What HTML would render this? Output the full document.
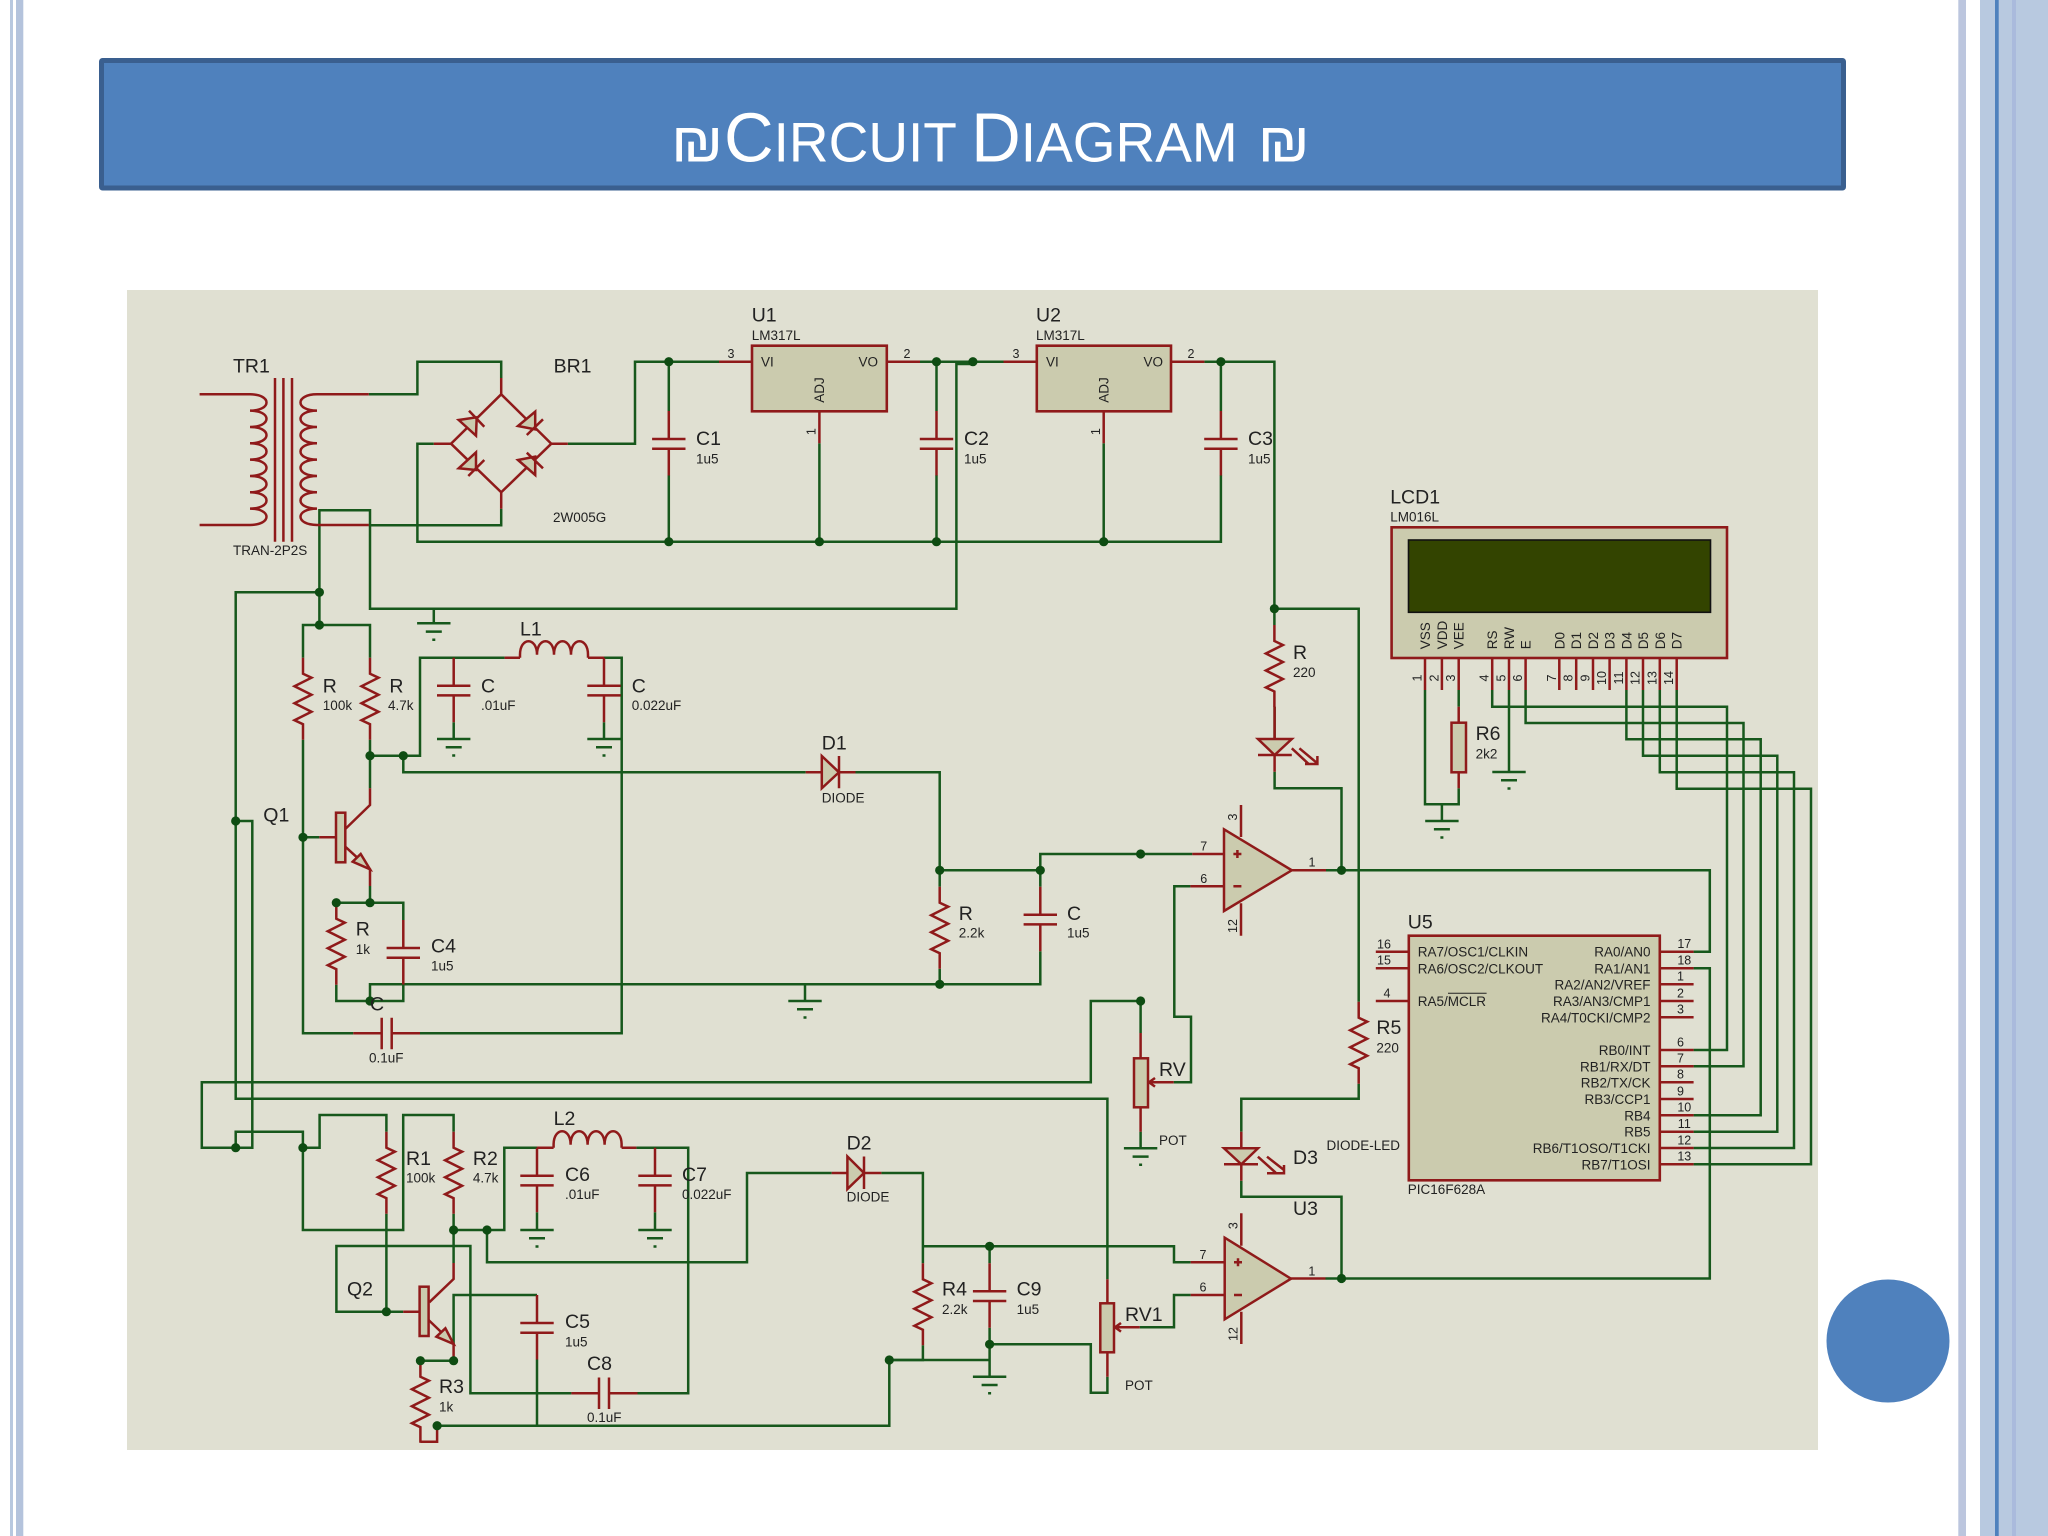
<!DOCTYPE html>
<html><head><meta charset="utf-8"><title>Circuit Diagram</title>
<style>
html,body{margin:0;padding:0;background:#fff;width:2048px;height:1536px;overflow:hidden}
svg{display:block;position:absolute;left:0;top:0}
text{font-family:"Liberation Sans",sans-serif;fill:#222}
.l text,text.l{font-size:19.5px}
.s text,text.s{font-size:13.5px}
.n text,text.n{font-size:12.5px}
</style></head><body>
<svg width="2048" height="1536" viewBox="0 0 2048 1536" xmlns="http://www.w3.org/2000/svg">
<defs>
<path id="r" d="M0 0V16l8.5 4-17 8.5 17 8.5-17 8.5 17 8.5-17 8.5 8.5 4V82"/>
<path id="c" d="M0 0V28M-16.7 28H16.7M-16.7 37.7H16.7M0 37.7V64.5"/>
<path id="g" d="M-16.7 0H16.7M-8 8.3H8M-1.5 16.5H1.5"/>
<path id="ind" d="M0 0V-3c0-18 17-18 17 0 0-18 17-18 17 0 0-18 17-18 17 0 0-18 17-18 17 0V0"/>
</defs>
<rect width="2048" height="1536" fill="#fff"/>
<!-- side bars -->
<rect x="10" y="0" width="3" height="1536" fill="#b8c8df"/>
<rect x="16" y="0" width="7.3" height="1536" fill="#b4c3dc"/>
<rect x="1958.3" y="0" width="7.7" height="1536" fill="#bcc6de"/>
<rect x="1980" y="0" width="68" height="1536" fill="#b8c9e0"/>
<rect x="1995" y="0" width="3.7" height="1536" fill="#4f81bd"/>
<rect x="2012" y="0" width="4" height="1536" fill="#aabadc"/>
<!-- title -->
<rect x="101.5" y="60.5" width="1742" height="127.5" rx="1" fill="#4f81bd" stroke="#3a5f8f" stroke-width="5"/>
<text transform="translate(671,161.5) scale(1.1,1)" font-size="56" style="fill:#fff">₪</text>
<text transform="translate(724,161.5) scale(.982,1)" style="fill:#fff"><tspan font-size="70">C</tspan><tspan font-size="56">IRCUIT </tspan><tspan font-size="70">D</tspan><tspan font-size="56">IAGRAM</tspan></text>
<text transform="translate(1257.6,161.5) scale(1.1,1)" font-size="56" style="fill:#fff">₪</text>
<!-- schematic bg -->
<rect x="127" y="290" width="1691" height="1160" fill="#e0e0d2"/>
<!-- component fills -->
<g fill="#cbcbae" stroke="#8f1a1a" stroke-width="2.6">
<rect x="752" y="345.7" width="134.8" height="65.6"/>
<rect x="1036.8" y="345.7" width="134.2" height="65.6"/>
<rect x="1391.6" y="527.3" width="335.4" height="130.7"/>
<rect x="1408.8" y="935.7" width="251" height="244.6"/>
</g>
<rect x="1408.5" y="540" width="302" height="72.3" fill="#334400" stroke="#111" stroke-width="1.6"/>
<!-- green wires -->
<g fill="none" stroke="#17581c" stroke-width="2.5">
<path d="M368.8 394.3H417.4V361.7H501.2V378"/>
<path d="M433.8 443.7H417.4V541.7H1220.9V475.3"/>
<path d="M567.8 443.7H635V361.7H719"/>
<path d="M501.2 508.7V525.3H368.8"/>
<path d="M319.4 625V510.3H370V608.7H956.4V364H973"/>
<path d="M920 361.7H1003.5"/>
<path d="M668.8 361.7V411M668.8 475.3V541.7"/>
<path d="M819.4 443.3V541.7M1103.7 443.3V541.7"/>
<path d="M936.5 361.7V411M936.5 475.3V541.7"/>
<path d="M1204.4 361.7H1274.4V625M1220.9 361.7V411"/>
<path d="M319.4 592.3H235.7V1098.7H1107.4V1279.3"/>
<path d="M303 657.7V625H370V657.7"/>
<path d="M303 739.7V1033.3H353.3"/>
<path d="M370 739.7V788.3"/>
<path d="M370 755.7H420V657.7H504.6M403.3 755.7V772.3H805.7"/>
<path d="M604 657.7H621.7V1033.3H420"/>
<path d="M453.7 722.2V739M604 722.2V739M433.8 608.7V623.3"/>
<path d="M235.7 821H252.3V1147.7H201.8V1082.3H1090.8V1001H1140.6V1033"/>
<path d="M235.7 1147.7V1131.7H302.9V1230H403.2V1115H453.6V1131.7"/>
<path d="M302.9 1147.7H319.6V1115H386.4V1131.7"/>
<path d="M386.4 1213.7V1311.7H336.4V1246H470.4V1393.3H571.4"/>
<path d="M386.4 1311.7H403.2"/>
<path d="M637.5 1393.3H688.2V1147.7H636.4"/>
<path d="M537 1147.7H504.3V1230H453.6M453.6 1213.7V1263"/>
<path d="M487 1230V1262.3H747V1173H831.7"/>
<path d="M881.4 1173H922.9V1263.3"/>
<path d="M922.9 1246.3H1174V1262.3H1190.7"/>
<path d="M989.6 1246.3V1263.3M989.6 1327.8V1376.7"/>
<path d="M922.9 1345.3V1360H889.3V1425.7H437.1"/>
<path d="M889.3 1360H989.6"/>
<path d="M989.6 1344.3H1090.8V1392.7H1107.4V1376.7"/>
<path d="M1190.7 1295H1174V1327.3H1139.7"/>
<path d="M1325.5 1278.5H1709.8V968.3H1693.6"/>
<path d="M1274.4 608.7H1358.7V1001.7M1358.7 1083.7V1098.7H1241.3V1131.7"/>
<path d="M1241.3 1180.7V1196.7H1341.5V1278.5"/>
<path d="M1274.6 706.7V738.7M1274.6 771.7V788.3H1341.5V870.3"/>
<path d="M1326 870.3H1709.8V951.7H1693.6"/>
<path d="M855.5 772.3H939.7V886.7M939.7 968.7V984.3M370 1001V984.3H1040.3V951.2M939.7 870.3H1040.3V886.7M1040.3 870.3V854H1192.3"/>
<path d="M805 984.3V1001"/>
<path d="M1190.4 886.3H1174.3V1016.7H1191V1082.3H1173.7"/>
<path d="M1140.6 1131.7V1148.3"/>
<path d="M303 837.3H319.3M370 886V902.7"/>
<path d="M370 902.7H403.3V920M336.3 902.7H370"/>
<path d="M403.3 984V1001H336.3V984.7"/>
<path d="M453.6 1344V1295H537"/>
<path d="M537 1359.5V1425.7M420.4 1360.7H453.6"/>
<path d="M537 1212.2V1230M655 1212.2V1230"/>
<path d="M1425 690V804.3H1458.7V788.3M1458.7 706.7V690M1441.9 804.3V821M1509 690V772"/>
<path d="M1492.2 690V706.7H1727V1050H1693.6"/>
<path d="M1525.6 690V723H1743.5V1066.3H1693.6"/>
<path d="M1626.4 690V739.3H1760.7V1115.3H1693.6"/>
<path d="M1643 690V755.7H1777.3V1131.7H1693.6"/>
<path d="M1659.8 690V772.3H1794V1148H1693.6"/>
<path d="M1676.7 690V788.7H1811V1164.3H1693.6"/>
<use href="#g" x="433.8" y="623.3"/><use href="#g" x="453.7" y="739"/><use href="#g" x="604" y="739"/><use href="#g" x="805" y="1001"/><use href="#g" x="1441.9" y="821"/><use href="#g" x="1509" y="772"/><use href="#g" x="1140.6" y="1148.3"/><use href="#g" x="537" y="1230"/><use href="#g" x="655" y="1230"/><use href="#g" x="989.6" y="1376.7"/>
</g>
<!-- red parts -->
<g fill="none" stroke="#8f1a1a" stroke-width="2.5">
<path d="M199.6 394.3H250c22 0 22 16.33 0 16.33 22 0 22 16.33 0 16.33 22 0 22 16.33 0 16.33 22 0 22 16.33 0 16.33 22 0 22 16.33 0 16.33 22 0 22 16.33 0 16.33 22 0 22 16.33 0 16.33 22 0 22 16.33 0 16.33H199.6"/>
<path d="M368.8 394.3H317c-22 0-22 16.33 0 16.33-22 0-22 16.33 0 16.33-22 0-22 16.33 0 16.33-22 0-22 16.33 0 16.33-22 0-22 16.33 0 16.33-22 0-22 16.33 0 16.33-22 0-22 16.33 0 16.33-22 0-22 16.33 0 16.33H368.8"/>
<path d="M275 378V541.7M283.4 378V541.7M292 378V541.7"/>
<path d="M501.2 378V394.3M501.2 394.3L551.3 443.7 501.2 492.3 451 443.7ZM501.2 492.3V508.7M451 443.7H433.8M551.3 443.7H567.8"/>
<g fill="#cbcbae">
<path d="M458.7 420L476 435.7 476.7 417.3Z"/>
<path d="M518 426L535.2 411.7 535.2 429.3Z"/>
<path d="M458.7 468.3L476 452.3 476 470Z"/>
<path d="M518 460L535.2 475 535.2 456.7Z"/>
</g>
<path d="M469 410.7L484.3 426.7M526.8 435L543 419.3M468.3 476L484.3 460M526.8 452.7L543 468.3"/>
<use href="#r" x="303" y="657.7"/><use href="#r" x="370" y="657.7"/><use href="#r" x="1274.4" y="625"/><use href="#r" x="939.7" y="886.7"/><use href="#r" x="336.3" y="902.7"/><use href="#r" x="386.4" y="1131.7"/><use href="#r" x="453.6" y="1131.7"/><use href="#r" x="420.4" y="1360.7"/><use href="#r" x="922.9" y="1263.3"/><use href="#r" x="1358.7" y="1001.7"/>
<path d="M420.4 1441.7H437.1V1425.7"/>
<use href="#c" x="668.8" y="411"/><use href="#c" x="936.5" y="411"/><use href="#c" x="1220.9" y="411"/><use href="#c" x="453.7" y="657.7"/><use href="#c" x="604" y="657.7"/><use href="#c" x="1040.3" y="886.7"/><use href="#c" x="403.3" y="920"/><use href="#c" x="537" y="1295"/><use href="#c" x="537" y="1147.7"/><use href="#c" x="655" y="1147.7"/><use href="#c" x="989.6" y="1263.3"/>
<path d="M353.3 1033.3H381.7M381.7 1017.7V1049.3M391.7 1017.7V1049.3M391.7 1033.3H420"/>
<path d="M571.4 1393.3H599M599 1377.5V1409M609 1377.5V1409M609 1393.3H637.5"/>
<use href="#ind" x="520" y="657.7"/><path d="M504.6 657.7H520M588 657.7H604"/>
<use href="#ind" x="553.6" y="1147.7"/><path d="M537 1147.7H553.6M621.6 1147.7H636.4"/>
<path d="M719 361.7H752M886.8 361.7H920M1003.5 361.7H1036.8M1171 361.7H1204.4M819.4 411.3V443.3M1103.7 411.3V443.3"/>
<!-- Q1 -->
<rect x="336" y="812.7" width="9.3" height="49.6" fill="#cbcbae"/>
<path d="M319.3 837.3H336M370 788.3V805L345.3 829M345.3 846.7L370 869.3V886"/>
<path d="M352.7 861.7L360.7 854 370 869.3Z" fill="#cbcbae"/>
<!-- Q2 -->
<rect x="419.6" y="1286.7" width="9" height="49.3" fill="#cbcbae"/>
<path d="M403.2 1311.7H419.6M453.6 1263V1279L429.3 1302.3M428.6 1320L453.6 1344V1360.7"/>
<path d="M436.4 1336.7L445.4 1328.3 453.6 1344Z" fill="#cbcbae"/>
<!-- D1 D2 -->
<path d="M805.7 772.3H821.8M839 772.3H855.5M839 756V788.3" /><path d="M821.8 756V788.3L839 772.3Z" fill="#cbcbae"/>
<path d="M831.7 1173H847.4M864 1173H881.4M864 1156.5V1189" /><path d="M847.4 1156.5V1189L864 1173Z" fill="#cbcbae"/>
<!-- LED1 -->
<path d="M1274.6 706.7V738.7M1274.6 755V771.7M1258 755H1291.8"/>
<path d="M1258 739H1291.8L1274.6 755Z" fill="#cbcbae"/>
<path d="M1291.8 748.3L1309 764.3M1299.4 748.3L1317.4 763.3M1317.4 756V764H1305"/>
<!-- LED D3 -->
<path d="M1241.3 1131.7V1148.3M1241.3 1164.3V1180.7M1224 1164.3H1258"/>
<path d="M1224 1148.3H1258L1241.3 1164.3Z" fill="#cbcbae"/>
<path d="M1257.9 1156.7L1275.7 1172.7M1267 1156.7L1284 1170M1284 1165V1173.3H1267"/>
<!-- R6 -->
<rect x="1451.5" y="722.7" width="14.5" height="49.6" fill="#cbcbae"/>
<path d="M1458.7 706.7V722.7M1458.7 772.3V788.3"/>
<!-- LCD pins -->
<path d="M1425 658V690M1441.9 658V690M1458.7 658V690M1492.2 658V690M1509 658V690M1525.6 658V690M1559.3 658V690M1576.2 658V690M1593 658V690M1609.6 658V690M1626.4 658V690M1643 658V690M1659.8 658V690M1676.7 658V690"/>
<!-- U5 pins -->
<path d="M1375.8 951.7H1408.8M1375.8 968.3H1408.8M1375.8 1001H1408.8"/>
<path d="M1659.8 951.7H1693.6M1659.8 968.3H1693.6M1659.8 984.3H1693.6M1659.8 1001H1693.6M1659.8 1017.3H1693.6M1659.8 1050H1693.6M1659.8 1066.3H1693.6M1659.8 1082.3H1693.6M1659.8 1099H1693.6M1659.8 1115.3H1693.6M1659.8 1131.7H1693.6M1659.8 1148H1693.6M1659.8 1164.3H1693.6"/>
<!-- opamps -->
<path d="M1224 829.3L1291.8 870.3 1224 911Z" fill="#cbcbae"/>
<path d="M1192.3 854H1224M1190.4 886.3H1224M1291.8 870.3H1326M1241 805V837M1241 903.3V935.7M1233.4 854H1241.4M1237.4 850V858M1233.4 886.3H1241.4"/>
<path d="M1224.7 1237.7L1291 1278.7 1224.7 1319.3Z" fill="#cbcbae"/>
<path d="M1190.7 1262.3H1224.7M1190.7 1295H1224.7M1291 1278.5H1325.5M1241.3 1213.3V1245.7M1241.3 1311.7V1344M1234 1262.3H1242M1238 1258.3V1266.3M1234 1295H1242"/>
<!-- pots -->
<rect x="1134" y="1058.3" width="14" height="49" fill="#cbcbae"/>
<path d="M1140.6 1033V1058.3M1140.6 1107.3V1131.7M1173.7 1082.3H1149M1155 1078L1149 1082.3 1155 1086.6"/>
<rect x="1100.3" y="1303.3" width="13.7" height="49" fill="#cbcbae"/>
<path d="M1107.4 1279.3V1303.3M1107.4 1352.3V1376.7M1139.7 1327.3H1115M1121 1323L1115 1327.3 1121 1331.6"/>
</g>
<!-- dots -->
<g fill="#0e4c12">
<circle cx="668.8" cy="361.7" r="4.6"/><circle cx="668.8" cy="541.7" r="4.6"/><circle cx="819.4" cy="541.7" r="4.6"/><circle cx="936.5" cy="361.7" r="4.6"/><circle cx="936.5" cy="541.7" r="4.6"/><circle cx="972.9" cy="361.7" r="4.6"/><circle cx="1103.7" cy="541.7" r="4.6"/><circle cx="1220.9" cy="361.7" r="4.6"/><circle cx="1274.4" cy="608.7" r="4.6"/><circle cx="319.4" cy="592.3" r="4.6"/><circle cx="319.4" cy="625" r="4.6"/><circle cx="370" cy="755.7" r="4.6"/><circle cx="403.3" cy="755.7" r="4.6"/><circle cx="235.7" cy="821" r="4.6"/><circle cx="303" cy="837.3" r="4.6"/><circle cx="336.3" cy="902.7" r="4.6"/><circle cx="370" cy="902.7" r="4.6"/><circle cx="370" cy="1001" r="4.6"/><circle cx="939.7" cy="870.3" r="4.6"/><circle cx="1040.3" cy="870.3" r="4.6"/><circle cx="1140.6" cy="854" r="4.6"/><circle cx="939.7" cy="984.3" r="4.6"/><circle cx="1341.5" cy="870.3" r="4.6"/><circle cx="1140.6" cy="1001" r="4.6"/><circle cx="235.7" cy="1147.7" r="4.6"/><circle cx="302.9" cy="1147.7" r="4.6"/><circle cx="453.6" cy="1230" r="4.6"/><circle cx="487" cy="1230" r="4.6"/><circle cx="386.4" cy="1311.7" r="4.6"/><circle cx="453.6" cy="1360.7" r="4.6"/><circle cx="420.4" cy="1360.7" r="4.6"/><circle cx="437.1" cy="1425.7" r="4.6"/><circle cx="889.3" cy="1360" r="4.6"/><circle cx="989.6" cy="1246.3" r="4.6"/><circle cx="989.6" cy="1344.3" r="4.6"/><circle cx="1341.5" cy="1278.5" r="4.6"/>
</g>
<!-- labels large -->
<g class="l">
<text x="233" y="372.7">TR1</text><text x="553.6" y="372.7">BR1</text>
<text x="751.7" y="321.7">U1</text><text x="1036" y="321.7">U2</text>
<text x="696" y="445">C1</text><text x="964" y="445">C2</text><text x="1248" y="445">C3</text>
<text x="1390.2" y="503.3">LCD1</text><text x="1475.6" y="740">R6</text>
<text x="520" y="635.7">L1</text><text x="322.8" y="692.3">R</text><text x="389.4" y="692.3">R</text><text x="481" y="692.3">C</text><text x="631.7" y="692.3">C</text>
<text x="1293" y="659">R</text><text x="821.8" y="749.3">D1</text>
<text x="263.3" y="821.7">Q1</text><text x="355.7" y="935.7">R</text><text x="431" y="952.3">C4</text><text x="370" y="1010.7">C</text>
<text x="958.8" y="920">R</text><text x="1067" y="920">C</text>
<text x="1407.8" y="928.3">U5</text><text x="1376.4" y="1034">R5</text>
<text x="1159" y="1076">RV</text><text x="553.6" y="1125">L2</text>
<text x="406" y="1165">R1</text><text x="472.9" y="1165">R2</text><text x="565" y="1181">C6</text><text x="682" y="1181">C7</text>
<text x="846.6" y="1149.3">D2</text><text x="1293" y="1164">D3</text><text x="1293" y="1215">U3</text>
<text x="347" y="1295.7">Q2</text><text x="565" y="1328">C5</text><text x="587" y="1370">C8</text><text x="439" y="1393">R3</text>
<text x="942" y="1295.7">R4</text><text x="1016.6" y="1295.7">C9</text><text x="1125" y="1321">RV1</text>
</g>
<!-- labels small -->
<g class="s">
<text x="233" y="555">TRAN-2P2S</text><text x="553" y="522">2W005G</text>
<text x="751.7" y="340">LM317L</text><text x="1036" y="340">LM317L</text>
<text x="761" y="366.7">VI</text><text x="878" y="366.7" text-anchor="end">VO</text><text x="1046" y="366.7">VI</text><text x="1163" y="366.7" text-anchor="end">VO</text>
<text transform="translate(824,390) rotate(-90)" text-anchor="middle">ADJ</text><text transform="translate(1108.4,390) rotate(-90)" text-anchor="middle">ADJ</text>
<text x="696" y="463.3">1u5</text><text x="964" y="463.3">1u5</text><text x="1248" y="463.3">1u5</text>
<text x="1390.2" y="521.7">LM016L</text><text x="1475.6" y="758.3">2k2</text>
<text x="322.8" y="710">100k</text><text x="388" y="710">4.7k</text><text x="481" y="710">.01uF</text><text x="631.7" y="710">0.022uF</text>
<text x="1293" y="677">220</text><text x="821.8" y="802.3">DIODE</text>
<text x="355.7" y="954">1k</text><text x="431" y="970.7">1u5</text><text x="369" y="1062.7">0.1uF</text>
<text x="958.8" y="937.7">2.2k</text><text x="1067" y="937.7">1u5</text>
<text x="1376.4" y="1052.3">220</text><text x="1159" y="1145">POT</text><text x="1326.5" y="1150">DIODE-LED</text>
<text x="406" y="1182.7">100k</text><text x="472.9" y="1182.7">4.7k</text><text x="565" y="1199">.01uF</text><text x="682" y="1199">0.022uF</text>
<text x="846.6" y="1201.7">DIODE</text><text x="565" y="1346.7">1u5</text><text x="587" y="1422">0.1uF</text><text x="439" y="1411.7">1k</text>
<text x="942" y="1314">2.2k</text><text x="1016.6" y="1314">1u5</text><text x="1125" y="1390">POT</text>
<text x="1407.8" y="1194">PIC16F628A</text>
<text x="1417.8" y="956.7">RA7/OSC1/CLKIN</text><text x="1417.8" y="973.3">RA6/OSC2/CLKOUT</text><text x="1417.8" y="1006">RA5/MCLR</text>
<text text-anchor="end" x="1650.5" y="956.7">RA0/AN0</text><text text-anchor="end" x="1650.5" y="973.3">RA1/AN1</text><text text-anchor="end" x="1650.5" y="989.3">RA2/AN2/VREF</text><text text-anchor="end" x="1650.5" y="1006">RA3/AN3/CMP1</text><text text-anchor="end" x="1650.5" y="1022.3">RA4/T0CKI/CMP2</text><text text-anchor="end" x="1650.5" y="1055">RB0/INT</text><text text-anchor="end" x="1650.5" y="1071.3">RB1/RX/DT</text><text text-anchor="end" x="1650.5" y="1087.3">RB2/TX/CK</text><text text-anchor="end" x="1650.5" y="1104">RB3/CCP1</text><text text-anchor="end" x="1650.5" y="1120.3">RB4</text><text text-anchor="end" x="1650.5" y="1136.7">RB5</text><text text-anchor="end" x="1650.5" y="1153">RB6/T1OSO/T1CKI</text><text text-anchor="end" x="1650.5" y="1169.3">RB7/T1OSI</text>
<text transform="translate(1430,649.3) rotate(-90)">VSS</text><text transform="translate(1446.9,649.3) rotate(-90)">VDD</text><text transform="translate(1463.7,649.3) rotate(-90)">VEE</text><text transform="translate(1497.2,649.3) rotate(-90)">RS</text><text transform="translate(1514,649.3) rotate(-90)">RW</text><text transform="translate(1530.6,649.3) rotate(-90)">E</text><text transform="translate(1564.3,649.3) rotate(-90)">D0</text><text transform="translate(1581.2,649.3) rotate(-90)">D1</text><text transform="translate(1598,649.3) rotate(-90)">D2</text><text transform="translate(1614.6,649.3) rotate(-90)">D3</text><text transform="translate(1631.4,649.3) rotate(-90)">D4</text><text transform="translate(1648,649.3) rotate(-90)">D5</text><text transform="translate(1664.8,649.3) rotate(-90)">D6</text><text transform="translate(1681.7,649.3) rotate(-90)">D7</text>
</g>
<path d="M1448 993.3H1486.6" stroke="#222" stroke-width="1" fill="none"/>
<!-- pin numbers -->
<g class="n">
<text x="731" y="358" text-anchor="middle">3</text><text x="907" y="358" text-anchor="middle">2</text><text x="1016" y="358" text-anchor="middle">3</text><text x="1191" y="358" text-anchor="middle">2</text>
<text transform="translate(815.5,431.7) rotate(-90)" text-anchor="middle">1</text><text transform="translate(1100,431.7) rotate(-90)" text-anchor="middle">1</text>
<text transform="translate(1421.5,678) rotate(-90)" text-anchor="middle">1</text><text transform="translate(1438.4,678) rotate(-90)" text-anchor="middle">2</text><text transform="translate(1455.2,678) rotate(-90)" text-anchor="middle">3</text><text transform="translate(1488.7,678) rotate(-90)" text-anchor="middle">4</text><text transform="translate(1505.5,678) rotate(-90)" text-anchor="middle">5</text><text transform="translate(1522.1,678) rotate(-90)" text-anchor="middle">6</text><text transform="translate(1555.8,678) rotate(-90)" text-anchor="middle">7</text><text transform="translate(1572.7,678) rotate(-90)" text-anchor="middle">8</text><text transform="translate(1589.5,678) rotate(-90)" text-anchor="middle">9</text><text transform="translate(1606.1,678) rotate(-90)" text-anchor="middle">10</text><text transform="translate(1622.9,678) rotate(-90)" text-anchor="middle">11</text><text transform="translate(1639.5,678) rotate(-90)" text-anchor="middle">12</text><text transform="translate(1656.3,678) rotate(-90)" text-anchor="middle">13</text><text transform="translate(1673.2,678) rotate(-90)" text-anchor="middle">14</text>
<text x="1203.7" y="850.7" text-anchor="middle">7</text><text x="1203.7" y="883" text-anchor="middle">6</text><text x="1312" y="866.7" text-anchor="middle">1</text>
<text transform="translate(1237,817) rotate(-90)" text-anchor="middle">3</text><text transform="translate(1237,926) rotate(-90)" text-anchor="middle">12</text>
<text x="1203" y="1259" text-anchor="middle">7</text><text x="1203" y="1291.7" text-anchor="middle">6</text><text x="1311.8" y="1275.7" text-anchor="middle">1</text>
<text transform="translate(1237.5,1225.7) rotate(-90)" text-anchor="middle">3</text><text transform="translate(1237.5,1334) rotate(-90)" text-anchor="middle">12</text>
<text x="1384" y="948.3" text-anchor="middle">16</text><text x="1384" y="964.6" text-anchor="middle">15</text><text x="1387" y="997.3" text-anchor="middle">4</text>
<text x="1684.3" y="948" text-anchor="middle">17</text><text x="1684.3" y="964.6" text-anchor="middle">18</text><text x="1680.5" y="980.6" text-anchor="middle">1</text><text x="1680.5" y="997.3" text-anchor="middle">2</text><text x="1680.5" y="1013.6" text-anchor="middle">3</text><text x="1680.5" y="1046.3" text-anchor="middle">6</text><text x="1680.5" y="1062.6" text-anchor="middle">7</text><text x="1680.5" y="1078.6" text-anchor="middle">8</text><text x="1680.5" y="1095.3" text-anchor="middle">9</text><text x="1684.3" y="1111.6" text-anchor="middle">10</text><text x="1684.3" y="1128" text-anchor="middle">11</text><text x="1684.3" y="1144.3" text-anchor="middle">12</text><text x="1684.3" y="1160.6" text-anchor="middle">13</text>
</g>
<!-- circle -->
<circle cx="1888" cy="1341" r="61.5" fill="#4f81bd"/>
</svg>
</body></html>
